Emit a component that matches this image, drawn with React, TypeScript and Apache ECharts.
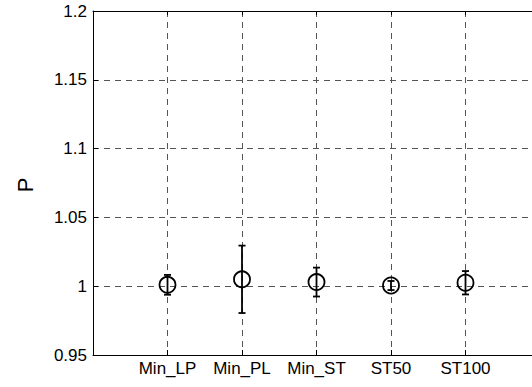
import React, { useEffect, useRef } from "react";
import * as echarts from "echarts";

// Methods compared, their mean P and the half-width of each error bar
const categories = ["Min_LP", "Min_PL", "Min_ST", "ST50", "ST100"];
const means = [1.001, 1.005, 1.003, 1.0005, 1.0025];
const errors = [0.0072, 0.0245, 0.0105, 0.0033, 0.0085];
const yTicks = [0.95, 1, 1.05, 1.1, 1.15, 1.2];

const FONT = "'Liberation Sans', Arial, Helvetica, sans-serif";

export default function App() {
  const ref = useRef<HTMLDivElement>(null);

  useEffect(() => {
    document.body.style.margin = "0";
    if (!ref.current) return;
    const chart = echarts.init(ref.current, undefined, { renderer: "svg" });

    const points = categories.map((_, i) => [i + 1, means[i], errors[i]]);
    const dashed = { color: "#555", width: 1, type: [6, 5] as number[] };

    chart.setOption({
      animation: false,
      backgroundColor: "#fff",
      textStyle: { fontFamily: FONT, color: "#000" },
      grid: {
        left: 93,
        top: 11,
        width: 447,
        height: 344,
        containLabel: false,
        outerBoundsMode: "none",
      },
      xAxis: [
        {
          type: "value",
          min: 0,
          max: 6,
          interval: 1,
          position: "bottom",
          axisLine: { lineStyle: { color: "#000", width: 1 } },
          axisTick: { inside: true, length: 5, lineStyle: { color: "#000" } },
          axisLabel: {
            color: "#000",
            fontFamily: FONT,
            fontSize: 17,
            margin: 5,
            formatter: (v: number) => categories[v - 1] ?? "",
          },
          splitLine: { show: true, lineStyle: dashed },
        },
        {
          type: "value",
          min: 0,
          max: 6,
          interval: 1,
          position: "top",
          axisLine: { lineStyle: { color: "#000", width: 1 } },
          axisTick: { inside: true, length: 4, lineStyle: { color: "#000" } },
          axisLabel: { show: false },
          splitLine: { show: false },
        },
      ],
      yAxis: [
        {
          type: "value",
          min: 0.95,
          max: 1.2,
          interval: 0.05,
          position: "left",
          axisLine: { show: true, lineStyle: { color: "#000", width: 1 } },
          axisTick: { show: true, inside: true, length: 5, lineStyle: { color: "#000" } },
          axisLabel: {
            color: "#000",
            fontFamily: FONT,
            fontSize: 17,
            margin: 6,
            formatter: (v: number) => {
              const t = yTicks.find((y) => Math.abs(y - v) < 1e-6);
              return t === undefined ? "" : String(t);
            },
          },
          splitLine: { show: true, lineStyle: dashed },
        },
      ],
      graphic: [
        {
          type: "text",
          x: 25,
          y: 185,
          rotation: Math.PI / 2,
          style: {
            text: "P",
            font: `22px ${FONT}`,
            fill: "#000",
            align: "center",
            verticalAlign: "middle",
          },
        },
      ],
      series: [
        {
          type: "custom",
          xAxisIndex: 0,
          yAxisIndex: 0,
          data: points,
          encode: { x: 0, y: 1 },
          renderItem: (params: any, api: any) => {
            const x = api.value(0);
            const m = api.value(1);
            const e = api.value(2);
            const c = api.coord([x, m]);
            const hi = api.coord([x, m + e]);
            const lo = api.coord([x, m - e]);
            const cap = 3.5;
            const stroke = { stroke: "#000", lineWidth: 1.8 };
            return {
              type: "group",
              children: [
                { type: "line", shape: { x1: c[0], y1: hi[1], x2: c[0], y2: lo[1] }, style: stroke },
                { type: "line", shape: { x1: c[0] - cap, y1: hi[1], x2: c[0] + cap, y2: hi[1] }, style: stroke },
                { type: "line", shape: { x1: c[0] - cap, y1: lo[1], x2: c[0] + cap, y2: lo[1] }, style: stroke },
                {
                  type: "circle",
                  shape: { cx: c[0], cy: c[1], r: 8 },
                  style: { fill: "none", stroke: "#000", lineWidth: 1.8 },
                },
              ],
            };
          },
        },
      ],
    });

    return () => chart.dispose();
  }, []);

  return <div ref={ref} style={{ width: 532, height: 387 }} />;
}
